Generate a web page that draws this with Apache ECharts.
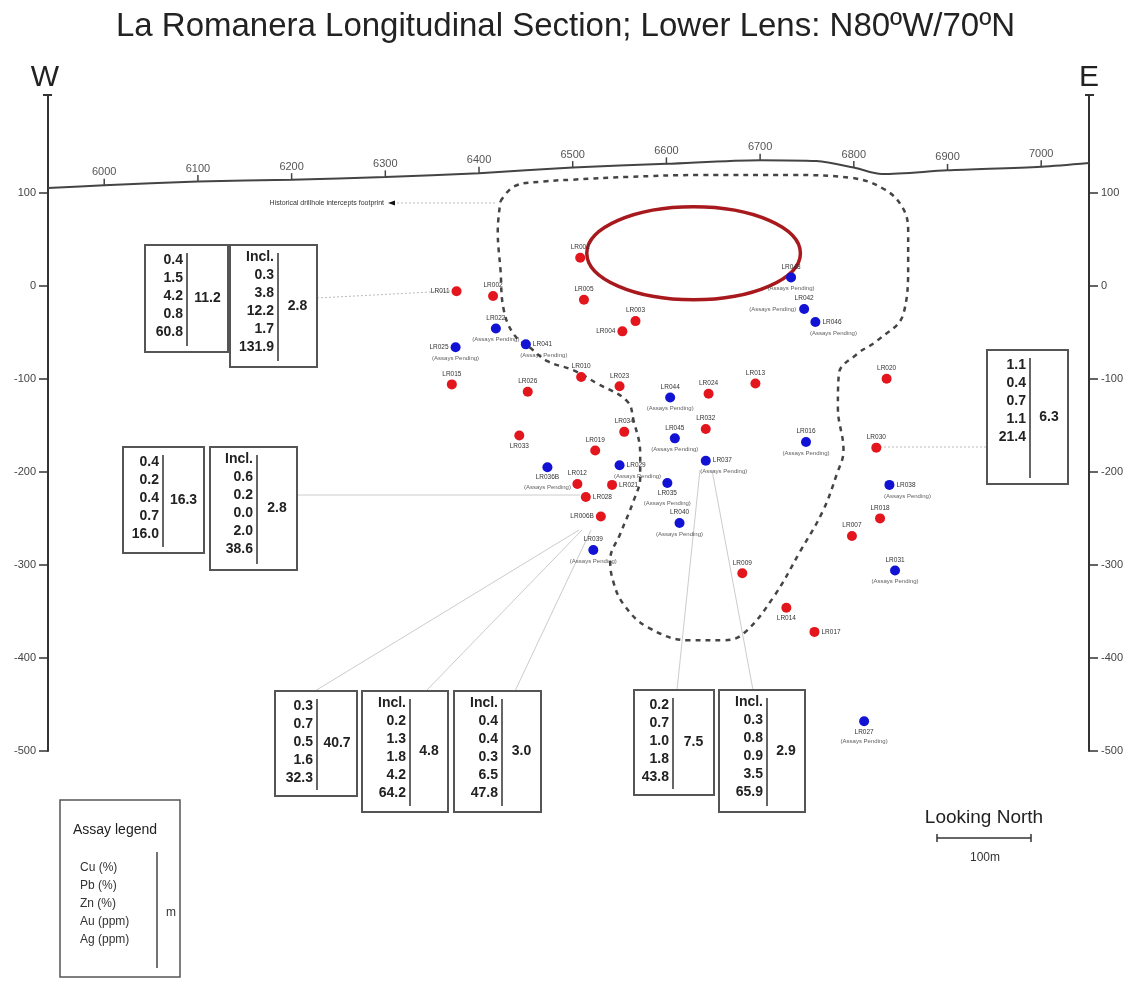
<!DOCTYPE html>
<html>
<head>
<meta charset="utf-8">
<title>La Romanera Longitudinal Section</title>
<script src="https://cdn.jsdelivr.net/npm/echarts@6/dist/echarts.min.js"></script>
<style>
  html, body { margin: 0; padding: 0; background: #fff; }
  #main { width: 1131px; height: 986px; }
</style>
</head>
<body>
<div id="main"></div>
<script>
// drillholes with assays (red)
var redNames = ['LR011','LR002','LR001','LR005','LR003','LR004','LR015','LR026','LR010','LR023','LR024','LR013','LR020','LR034','LR032','LR030','LR033','LR019','LR012','LR021','LR028','LR006B','LR018','LR007','LR009','LR014','LR017'];
var redEast = [6376,6415,6508,6512,6567,6553,6371,6452,6509,6550,6645,6695,6835,6555,6642,6824,6443,6524,6505,6542,6514,6530,6828,6798,6681,6728,6758];
var redElev = [-6,-11,30,-15,-38,-49,-106,-114,-98,-108,-116,-105,-100,-157,-154,-174,-161,-177,-213,-214,-227,-248,-250,-269,-309,-346,-372];

// drillholes with assays pending (blue)
var blueNames = ['LR048','LR042','LR046','LR022','LR025','LR041','LR044','LR045','LR016','LR037','LR029','LR036B','LR038','LR035','LR040','LR039','LR031','LR027'];
var blueEast = [6733,6747,6759,6418,6375,6450,6604,6609,6749,6642,6550,6473,6838,6601,6614,6522,6844,6811];
var blueElev = [9,-25,-39,-46,-66,-63,-120,-164,-168,-188,-193,-195,-214,-212,-255,-284,-306,-468];

// topographic surface
var surfEast = [5940,6000,6100,6200,6300,6400,6500,6600,6700,6760,6800,6830,6900,7000,7051];
var surfElev = [105,108,112,114,117,121,127,131,135,134,127,120,124,128,132];
var tickEast = [6000,6100,6200,6300,6400,6500,6600,6700,6800,6900,7000];

// historical drillhole intercepts footprint
var footEast = [6423,6438,6469,6500,6560,6636,6735,6797,6832,6852,6858,6858,6853,6825,6804,6784,6783,6789,6782,6767,6743,6714,6682,6661,6625,6580,6554,6543,6540,6551,6565,6572,6572,6565,6558,6526,6501,6473,6455,6437,6426,6423,6420,6423];
var footElev = [91,107,112,114,117,119,119,116,104,84,59,24,-30,-59,-73,-95,-131,-177,-202,-242,-285,-335,-374,-381,-381,-367,-342,-317,-295,-266,-231,-206,-180,-145,-124,-105,-91,-81,-67,-52,-24,16,59,91];

// target ellipse: centre east, centre elev, half width, half height (m)
var targetEllipse = [6629, 35, 114, 50];

var yTicks = [100, 0, -100, -200, -300, -400, -500];

// intercept boxes
var boxA1 = ['0.4','1.5','4.2','0.8','60.8'], lenA1 = '11.2';
var boxA2 = ['0.3','3.8','12.2','1.7','131.9'], lenA2 = '2.8';
var boxB1 = ['0.4','0.2','0.4','0.7','16.0'], lenB1 = '16.3';
var boxB2 = ['0.6','0.2','0.0','2.0','38.6'], lenB2 = '2.8';
var boxC1 = ['0.3','0.7','0.5','1.6','32.3'], lenC1 = '40.7';
var boxC2 = ['0.2','1.3','1.8','4.2','64.2'], lenC2 = '4.8';
var boxC3 = ['0.4','0.4','0.3','6.5','47.8'], lenC3 = '3.0';
var boxD1 = ['0.2','0.7','1.0','1.8','43.8'], lenD1 = '7.5';
var boxD2 = ['0.3','0.8','0.9','3.5','65.9'], lenD2 = '2.9';
var boxE = ['1.1','0.4','0.7','1.1','21.4'], lenE = '6.3';

var legendItems = ['Cu (%)','Pb (%)','Zn (%)','Au (ppm)','Ag (ppm)'];

// where the hole names sit (default top)
var namePos = {LR011:'left', LR004:'left', LR033:'bottom', LR021:'right', LR028:'right', LR006B:'left', LR014:'bottom', LR017:'right',
  LR046:'right', LR025:'left', LR041:'right', LR037:'right', LR029:'right', LR036B:'bottom', LR038:'right', LR035:'bottom', LR027:'bottom'};

var FONT = 'Liberation Sans';

function holeData(names, east, elev) {
  return names.map(function (n, i) {
    return { name: n, value: [east[i], elev[i]], label: { position: namePos[n] || 'top' } };
  });
}

var pendingData = blueNames.map(function (n, i) {
  var p = namePos[n] || 'top';
  var lab = { position: 'bottom', distance: 3 };
  if (n === 'LR042') lab = { position: 'left', distance: 3 };
  else if (p === 'bottom') lab = { position: 'bottom', distance: 12 };
  else if (p === 'right') lab = { position: 'bottom', distance: 3, offset: [18, 0] };
  return { name: n, value: [blueEast[i], blueElev[i]], label: lab };
});

var surfData = surfEast.map(function (e, i) { return [e, surfElev[i]]; });
var tickData = tickEast.map(function (e) { return [e, surfElev[surfEast.indexOf(e)]]; });
var footData = footEast.map(function (e, i) { return [e, footElev[i]]; });

function box(x, y, w, h, divX, vals, len, incl) {
  var lines = incl ? ['Incl.'].concat(vals) : vals;
  return [
    { type: 'rect', shape: { x: x, y: y, width: w, height: h }, style: { fill: '#fff', stroke: '#555', lineWidth: 2 } },
    { type: 'line', shape: { x1: divX, y1: y + 8, x2: divX, y2: y + h - 6 }, style: { stroke: '#333', lineWidth: 1.5 } },
    { type: 'text', x: divX - 4, y: y + (incl ? 3 : 6), style: { text: lines.join('\n'), font: 'bold 14px "' + FONT + '"', fill: '#222', align: 'right', verticalAlign: 'top', lineHeight: 18 } },
    { type: 'text', x: (divX + x + w) / 2, y: y + h / 2, style: { text: len, font: 'bold 14px "' + FONT + '"', fill: '#222', align: 'center', verticalAlign: 'middle' } }
  ];
}

function conn(x1, y1, x2, y2, dotted) {
  return { type: 'line', shape: { x1: x1, y1: y1, x2: x2, y2: y2 },
    style: { stroke: dotted ? '#bbb' : '#ccc', lineWidth: 1, lineDash: dotted ? [2, 2] : null } };
}

var graphics = [
  conn(317, 298, 450, 291, true),
  conn(297, 495, 580, 495, false),
  conn(315, 691, 579, 530, false),
  conn(426, 691, 582, 530, false),
  conn(515, 691, 591, 530, false),
  conn(677, 690, 700, 470, false),
  conn(753, 690, 712, 470, false),
  conn(880, 447, 987, 447, true),
  conn(397, 203, 495, 203, true),
  { type: 'text', x: 384, y: 203, style: { text: 'Historical drillhole intercepts footprint', font: '7px "' + FONT + '"', fill: '#333', align: 'right', verticalAlign: 'middle' } },
  { type: 'polygon', shape: { points: [[388, 203], [395, 200.5], [395, 205.5]] }, style: { fill: '#111' } },
  { type: 'text', x: 45, y: 78, style: { text: 'W', font: '30px "' + FONT + '"', fill: '#222', align: 'center', verticalAlign: 'middle' } },
  { type: 'text', x: 1089, y: 78, style: { text: 'E', font: '30px "' + FONT + '"', fill: '#222', align: 'center', verticalAlign: 'middle' } },
  { type: 'line', shape: { x1: 43, y1: 95, x2: 52, y2: 95 }, style: { stroke: '#333', lineWidth: 2 } },
  { type: 'line', shape: { x1: 1085, y1: 95, x2: 1094, y2: 95 }, style: { stroke: '#333', lineWidth: 2 } },
  // assay legend
  { type: 'rect', shape: { x: 60, y: 800, width: 120, height: 177 }, style: { fill: '#fff', stroke: '#555', lineWidth: 1.5 } },
  { type: 'text', x: 115, y: 830, style: { text: 'Assay legend', font: '14px "' + FONT + '"', fill: '#222', align: 'center', verticalAlign: 'middle' } },
  { type: 'text', x: 80, y: 859, style: { text: legendItems.join('\n'), font: '12px "' + FONT + '"', fill: '#333', align: 'left', verticalAlign: 'top', lineHeight: 18 } },
  { type: 'line', shape: { x1: 157, y1: 852, x2: 157, y2: 968 }, style: { stroke: '#444', lineWidth: 1.5 } },
  { type: 'text', x: 171, y: 913, style: { text: 'm', font: '12px "' + FONT + '"', fill: '#333', align: 'center', verticalAlign: 'middle' } },
  // looking north + scale bar
  { type: 'text', x: 984, y: 818, style: { text: 'Looking North', font: '19px "' + FONT + '"', fill: '#222', align: 'center', verticalAlign: 'middle' } },
  { type: 'line', shape: { x1: 937, y1: 838, x2: 1031, y2: 838 }, style: { stroke: '#333', lineWidth: 1.5 } },
  { type: 'line', shape: { x1: 937, y1: 834, x2: 937, y2: 842 }, style: { stroke: '#333', lineWidth: 1.5 } },
  { type: 'line', shape: { x1: 1031, y1: 834, x2: 1031, y2: 842 }, style: { stroke: '#333', lineWidth: 1.5 } },
  { type: 'text', x: 985, y: 858, style: { text: '100m', font: '12px "' + FONT + '"', fill: '#333', align: 'center', verticalAlign: 'middle' } }
]
  .concat(box(145, 245, 83, 107, 187, boxA1, lenA1, false))
  .concat(box(230, 245, 87, 122, 278, boxA2, lenA2, true))
  .concat(box(123, 447, 81, 106, 163, boxB1, lenB1, false))
  .concat(box(210, 447, 87, 123, 257, boxB2, lenB2, true))
  .concat(box(275, 691, 82, 105, 317, boxC1, lenC1, false))
  .concat(box(362, 691, 86, 121, 410, boxC2, lenC2, true))
  .concat(box(454, 691, 87, 121, 502, boxC3, lenC3, true))
  .concat(box(634, 690, 80, 105, 673, boxD1, lenD1, false))
  .concat(box(719, 690, 86, 122, 767, boxD2, lenD2, true))
  .concat(box(987, 350, 81, 134, 1030, boxE, lenE, false));

function yAxisCfg(pos) {
  return {
    type: 'value', position: pos, min: -500, max: 205, interval: 100,
    splitLine: { show: false },
    axisLine: { show: true, lineStyle: { color: '#333', width: 2 } },
    axisTick: { show: true, length: 9, customValues: yTicks, lineStyle: { color: '#333', width: 1.5 } },
    axisLabel: { customValues: yTicks, margin: 12, fontSize: 11, color: '#444', fontFamily: FONT }
  };
}

var chart = echarts.init(document.getElementById('main'));
var option = {
  animation: false,
  backgroundColor: '#fff',
  title: {
    text: 'La Romanera Longitudinal Section; Lower Lens: N80ºW/70ºN',
    left: 'center', top: 5,
    textStyle: { fontFamily: FONT, fontSize: 33, fontWeight: 'normal', color: '#222' }
  },
  grid: { left: 48, right: 42, top: 95, bottom: 235 },
  xAxis: { type: 'value', min: 5940, max: 7051, show: false },
  yAxis: [yAxisCfg('left'), yAxisCfg('right')],
  graphic: graphics,
  series: [
    {
      name: 'surface', type: 'line', data: surfData, symbol: 'none', smooth: 0.3,
      lineStyle: { color: '#444', width: 2 }, z: 3
    },
    {
      name: 'surface ticks', type: 'scatter', data: tickData, symbol: 'rect', symbolSize: [1.5, 7], symbolOffset: [0, -3],
      itemStyle: { color: '#444', opacity: 1 },
      label: { show: true, position: 'top', distance: 1, formatter: function (p) { return p.value[0]; }, fontSize: 11, color: '#555', fontFamily: FONT },
      z: 3
    },
    {
      name: 'footprint', type: 'line', data: footData, symbol: 'none', smooth: 0.4,
      lineStyle: { color: '#444', width: 2.5, type: [5, 5] }, z: 3
    },
    {
      name: 'target', type: 'custom', data: [targetEllipse],
      renderItem: function (params, api) {
        var c = api.coord([api.value(0), api.value(1)]);
        var s = api.size([api.value(2), api.value(3)]);
        return { type: 'ellipse', shape: { cx: c[0], cy: c[1], rx: s[0], ry: s[1] }, style: { fill: 'none', stroke: '#a8191d', lineWidth: 3.5 } };
      },
      z: 4
    },
    {
      name: 'Assayed', type: 'scatter', data: holeData(redNames, redEast, redElev), symbolSize: 10,
      itemStyle: { color: '#e3161d', opacity: 1 },
      label: { show: true, formatter: '{b}', fontSize: 6.5, color: '#333', distance: 2, fontFamily: FONT },
      z: 5
    },
    {
      name: 'Assays Pending', type: 'scatter', data: holeData(blueNames, blueEast, blueElev), symbolSize: 10,
      itemStyle: { color: '#1212d4', opacity: 1 },
      label: { show: true, formatter: '{b}', fontSize: 6.5, color: '#333', distance: 2, fontFamily: FONT },
      z: 5
    },
    {
      name: 'pending labels', type: 'scatter', data: pendingData, symbolSize: 10,
      itemStyle: { color: 'rgba(0,0,0,0)' }, silent: true,
      label: { show: true, formatter: '(Assays Pending)', fontSize: 6, color: '#333', fontFamily: FONT },
      z: 5
    }
  ]
};
chart.setOption(option);
</script>
</body>
</html>
